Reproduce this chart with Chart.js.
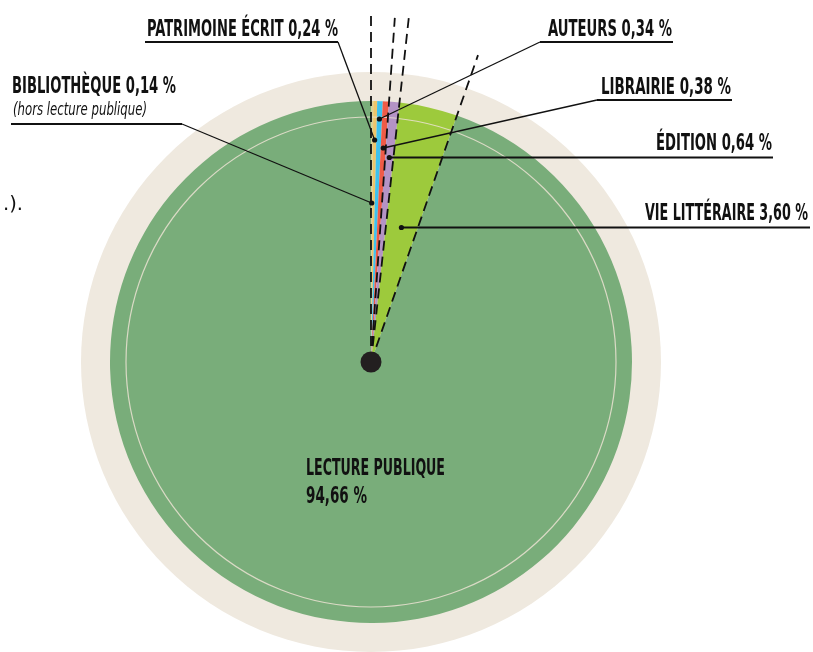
<!DOCTYPE html>
<html>
<head>
<meta charset="utf-8">
<script src="https://cdn.jsdelivr.net/npm/chart.js@4.4.1/dist/chart.umd.min.js"></script>
<style>
html,body{margin:0;padding:0;background:#fff;}
#wrap{position:relative;width:813px;height:652px;}
</style>
</head>
<body>
<div id="wrap"><canvas id="c"></canvas></div>
<script>
// ---- data ----
const categories = ["Bibliothèque", "Patrimoine écrit", "Auteurs", "Librairie", "Édition", "Vie littéraire", "Lecture publique"];
const values = [0.14, 0.24, 0.34, 0.38, 0.64, 3.60, 94.66];
const sliceColors = ["#d8d29a", "#eec56a", "#3ec2ee", "#ef5b47", "#b493c5", "#9dca3c", "#79ad7a"];
const subNote = "(hors lecture publique)";

// ---- layout / styles ----
const FONT_FAMILY = '"Liberation Sans Narrow", "DejaVu Sans Condensed", "Roboto", sans-serif';
const labelFont = 'bold 23px ' + FONT_FAMILY;
const fmt = v => v.toFixed(2).replace('.', ',') + ' %';

// label layout: text left x, baseline y, fitted width, underline y, underline x-range, dot y on slice mid-line
const labelLayout = [
  {tx: 12,  ty: 93,  tw: 164, uy: 124, ux0: 11,  ux1: 182, from: 'right', dotY: 203},
  {tx: 147, ty: 36,  tw: 191, uy: 42,  ux0: 145, ux1: 338, from: 'right', dotY: 140},
  {tx: 548, ty: 36,  tw: 124, uy: 42,  ux0: 540, ux1: 673, from: 'left',  dotY: 119},
  {tx: 601, ty: 94,  tw: 130, uy: 100, ux0: 597, ux1: 732, from: 'left',  dotY: 148},
  {tx: 656, ty: 150, tw: 116, uy: 157.5, ux0: null, ux1: 773, from: 'flat', dotY: 157.5},
  {tx: 645, ty: 220, tw: 163, uy: 227.5, ux0: null, ux1: 810, from: 'flat', dotY: 227.5}
];
// dashed radial lines: [slice index, 'start'|'end', length in px]
const dashLines = [[0, 'start', 352], [3, 'end', 345], [4, 'end', 350], [5, 'end', 325]];

function drawFit(ctx, text, x, y, w, font) {
  ctx.font = font;
  const m = ctx.measureText(text).width;
  ctx.save();
  ctx.translate(x, y);
  ctx.scale(w / m, 1);
  ctx.fillText(text, 0, 0);
  ctx.restore();
}

const decor = {
  id: 'decor',
  beforeDatasetsDraw(chart) {
    const a = chart.getDatasetMeta(0).data[0];
    const ctx = chart.ctx;
    ctx.save();
    ctx.beginPath();
    ctx.arc(a.x, a.y, a.outerRadius * 290 / 261, 0, Math.PI * 2);
    ctx.fillStyle = '#efe9df';
    ctx.fill();
    ctx.restore();
  },
  afterDatasetsDraw(chart) {
    const arcs = chart.getDatasetMeta(0).data;
    const cx = arcs[0].x, cy = arcs[0].y, R = arcs[0].outerRadius;
    const ctx = chart.ctx;
    ctx.save();
    // inner thin circle
    ctx.beginPath();
    ctx.arc(cx, cy, R * 245 / 261, 0, Math.PI * 2);
    ctx.strokeStyle = 'rgba(235,226,210,0.85)';
    ctx.lineWidth = 1.2;
    ctx.stroke();
    // dashed radial lines
    ctx.strokeStyle = '#111';
    ctx.lineWidth = 1.8;
    ctx.setLineDash([10, 6]);
    dashLines.forEach(([i, which, len]) => {
      const ang = which === 'start' ? arcs[i].startAngle : arcs[i].endAngle;
      ctx.beginPath();
      ctx.moveTo(cx, cy);
      ctx.lineTo(cx + len * Math.cos(ang), cy + len * Math.sin(ang));
      ctx.stroke();
    });
    ctx.setLineDash([]);
    // center dot
    ctx.beginPath();
    ctx.arc(cx, cy, 10.5, 0, Math.PI * 2);
    ctx.fillStyle = '#231f20';
    ctx.fill();
    // labels with leaders
    ctx.fillStyle = '#111';
    ctx.strokeStyle = '#111';
    ctx.textAlign = 'left';
    ctx.textBaseline = 'alphabetic';
    labelLayout.forEach((L, i) => {
      const mid = (arcs[i].startAngle + arcs[i].endAngle) / 2;
      // point on mid-line at given y
      const t = (L.dotY - cy) / Math.sin(mid);
      const dx = cx + t * Math.cos(mid), dy = L.dotY;
      drawFit(ctx, categories[i].toUpperCase() + ' ' + fmt(values[i]), L.tx, L.ty, L.tw, labelFont);
      ctx.lineWidth = 2;
      ctx.beginPath();
      if (L.from === 'flat') {
        ctx.moveTo(dx, L.uy); ctx.lineTo(L.ux1, L.uy); ctx.stroke();
      } else {
        ctx.moveTo(L.ux0, L.uy); ctx.lineTo(L.ux1, L.uy); ctx.stroke();
        ctx.lineWidth = 1.3;
        ctx.beginPath();
        const sx = L.from === 'right' ? L.ux1 : L.ux0;
        ctx.moveTo(sx, L.uy); ctx.lineTo(dx, dy); ctx.stroke();
      }
      ctx.beginPath();
      ctx.arc(dx, dy, 2.6, 0, Math.PI * 2);
      ctx.fill();
    });
    // sub note
    drawFit(ctx, subNote, 13, 115, 134, 'italic 18px ' + FONT_FAMILY);
    // main slice label
    const big = values.length - 1;
    drawFit(ctx, categories[big].toUpperCase(), 306, 475, 139, labelFont);
    drawFit(ctx, fmt(values[big]), 306, 503, 61, labelFont);
    // clipped fragment at left
    drawFit(ctx, '.).', 3, 210, 20, '20px ' + FONT_FAMILY);
    ctx.restore();
  }
};

new Chart(document.getElementById('c'), {
  type: 'pie',
  data: {
    labels: categories,
    datasets: [{
      data: values,
      backgroundColor: sliceColors,
      borderWidth: 0
    }]
  },
  options: {
    responsive: true,
    maintainAspectRatio: false,
    animation: false,
    layout: {padding: {left: 110, right: 181, top: 101, bottom: 29}},
    plugins: {legend: {display: false}, tooltip: {enabled: false}}
  },
  plugins: [decor]
});
</script>
</body>
</html>
